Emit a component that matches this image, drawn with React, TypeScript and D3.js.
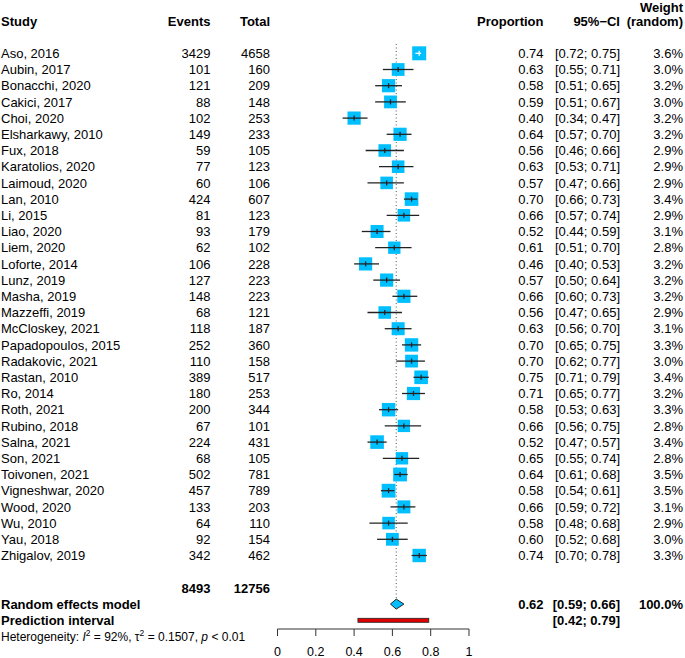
import React, { useEffect } from "react";
import * as d3 from "d3";

const studies = ["Aso, 2016","Aubin, 2017","Bonacchi, 2020","Cakici, 2017","Choi, 2020","Elsharkawy, 2010","Fux, 2018","Karatolios, 2020","Laimoud, 2020","Lan, 2010","Li, 2015","Liao, 2020","Liem, 2020","Loforte, 2014","Lunz, 2019","Masha, 2019","Mazzeffi, 2019","McCloskey, 2021","Papadopoulos, 2015","Radakovic, 2021","Rastan, 2010","Ro, 2014","Roth, 2021","Rubino, 2018","Salna, 2021","Son, 2021","Toivonen, 2021","Vigneshwar, 2020","Wood, 2020","Wu, 2010","Yau, 2018","Zhigalov, 2019"];
const events = [3429,101,121,88,102,149,59,77,60,424,81,93,62,106,127,148,68,118,252,110,389,180,200,67,224,68,502,457,133,64,92,342];
const totals = [4658,160,209,148,253,233,105,123,106,607,123,179,102,228,223,223,121,187,360,158,517,253,344,101,431,105,781,789,203,110,154,462];
const proportions = [0.74,0.63,0.58,0.59,0.40,0.64,0.56,0.63,0.57,0.70,0.66,0.52,0.61,0.46,0.57,0.66,0.56,0.63,0.70,0.70,0.75,0.71,0.58,0.66,0.52,0.65,0.64,0.58,0.66,0.58,0.60,0.74];
const ciLower = [0.72,0.55,0.51,0.51,0.34,0.57,0.46,0.53,0.47,0.66,0.57,0.44,0.51,0.40,0.50,0.60,0.47,0.56,0.65,0.62,0.71,0.65,0.53,0.56,0.47,0.55,0.61,0.54,0.59,0.48,0.52,0.70];
const ciUpper = [0.75,0.71,0.65,0.67,0.47,0.70,0.66,0.71,0.66,0.73,0.74,0.59,0.70,0.53,0.64,0.73,0.65,0.70,0.75,0.77,0.79,0.77,0.63,0.75,0.57,0.74,0.68,0.61,0.72,0.68,0.68,0.78];
const weights = [3.6,3.0,3.2,3.0,3.2,3.2,2.9,2.9,2.9,3.4,2.9,3.1,2.8,3.2,3.2,3.2,2.9,3.1,3.3,3.0,3.4,3.2,3.3,2.8,3.4,2.8,3.5,3.5,3.1,2.9,3.0,3.3];

const totalEvents = 8493;
const totalN = 12756;
const pooled = [0.62, 0.59, 0.66];
const prediction = [0.42, 0.79];
const axisTicks = [0, 0.2, 0.4, 0.6, 0.8, 1];

const FONT = "'Liberation Sans', Arial, Helvetica, sans-serif";
const SQUARE = "#00BFFF";

export default function App() {
  useEffect(() => {
    document.body.style.margin = "0";
  }, []);

  const W = 685, H = 658;
  const x = d3.scaleLinear().domain([0, 1]).range([277.5, 469]);
  const y = d3.scaleLinear().domain([0, studies.length - 1]).range([53.3, 555.5]);
  const step = y(1) - y(0);
  const size = d3.scaleSqrt().domain([0, 3.6]).range([0, 14]);
  const fmt2 = d3.format(".2f");
  const fmtW = (v: number) => d3.format(".1f")(v) + "%";
  const base = 4.6;

  const rowTotal = y(studies.length - 1) + 2 * step;
  const rowRandom = rowTotal + step;
  const rowPred = rowRandom + step;
  const rowHet = rowPred + step;
  const axisY = 629;

  const colEvents = 210.5;
  const colTotal = 270;
  const colProp = 543.5;
  const colCI = 620;
  const colW = 683;

  const header = { fontFamily: FONT, fontSize: 13, fontWeight: "bold" as const };
  const normal = { fontFamily: FONT, fontSize: 13 };

  return (
    <svg width={W} height={H} style={{ display: "block" }}>
      <rect width={W} height={H} fill="white" />
      {/* headers */}
      <text x={1} y={21 + base} {...header}>Study</text>
      <text x={colEvents} y={21 + base} textAnchor="end" {...header}>Events</text>
      <text x={colTotal} y={21 + base} textAnchor="end" {...header}>Total</text>
      <text x={colProp} y={21 + base} textAnchor="end" {...header}>Proportion</text>
      <text x={colCI} y={21 + base} textAnchor="end" {...header}>95%−CI</text>
      <text x={colW} y={11.5} textAnchor="end" {...header}>Weight</text>
      <text x={colW} y={21 + base} textAnchor="end" {...header}>(random)</text>

      {/* reference line */}
      <line x1={x(pooled[0])} x2={x(pooled[0])} y1={44} y2={rowRandom - 4} stroke="#555" strokeWidth={1} strokeDasharray="1,2.5" />

      {studies.map((s, i) => {
        const cy = y(i);
        const cx = x(proportions[i]);
        const sz = size(weights[i]);
        const lo = x(ciLower[i]);
        const hi = x(ciUpper[i]);
        const inside = lo > cx - sz / 2 && hi < cx + sz / 2;
        const lc = inside ? "white" : "#222";
        return (
          <g key={s}>
            <text x={1} y={cy + base} {...normal}>{s}</text>
            <text x={colEvents} y={cy + base} textAnchor="end" {...normal}>{events[i]}</text>
            <text x={colTotal} y={cy + base} textAnchor="end" {...normal}>{totals[i]}</text>
            <text x={colProp} y={cy + base} textAnchor="end" {...normal}>{fmt2(proportions[i])}</text>
            <text x={colCI} y={cy + base} textAnchor="end" {...normal}>[{fmt2(ciLower[i])}; {fmt2(ciUpper[i])}]</text>
            <text x={colW} y={cy + base} textAnchor="end" {...normal}>{fmtW(weights[i])}</text>
            <rect x={cx - sz / 2} y={cy - sz / 2} width={sz} height={sz} fill={SQUARE} />
            <line x1={lo} x2={hi} y1={cy} y2={cy} stroke={lc} strokeWidth={1.3} />
            <line x1={cx} x2={cx} y1={cy - 2.5} y2={cy + 2.5} stroke={lc} strokeWidth={1.3} />
          </g>
        );
      })}

      {/* totals */}
      <text x={colEvents} y={rowTotal + base} textAnchor="end" {...header}>{totalEvents}</text>
      <text x={colTotal} y={rowTotal + base} textAnchor="end" {...header}>{totalN}</text>

      {/* random effects */}
      <text x={1} y={rowRandom + base} {...header}>Random effects model</text>
      <path
        d={`M${x(pooled[1])},${rowRandom} L${x(pooled[0])},${rowRandom - 5} L${x(pooled[2])},${rowRandom} L${x(pooled[0])},${rowRandom + 5} Z`}
        fill={SQUARE}
        stroke="#222"
        strokeWidth={1}
      />
      <text x={colProp} y={rowRandom + base} textAnchor="end" {...header}>{fmt2(pooled[0])}</text>
      <text x={colCI} y={rowRandom + base} textAnchor="end" {...header}>[{fmt2(pooled[1])}; {fmt2(pooled[2])}]</text>
      <text x={colW} y={rowRandom + base} textAnchor="end" {...header}>100.0%</text>

      {/* prediction interval */}
      <text x={1} y={rowPred + base} {...header}>Prediction interval</text>
      <rect x={x(prediction[0])} y={rowPred - 2} width={x(prediction[1]) - x(prediction[0])} height={4} fill="#E00000" stroke="#222" strokeWidth={0.8} />
      <text x={colCI} y={rowPred + base} textAnchor="end" {...header}>[{fmt2(prediction[0])}; {fmt2(prediction[1])}]</text>

      {/* heterogeneity */}
      <text x={1} y={rowHet + 4.3} fontFamily={FONT} fontSize={12}>
        Heterogeneity: <tspan fontStyle="italic">I</tspan>
        <tspan dy={-5} fontSize={8.5}>2</tspan>
        <tspan dy={5}> = 92%, τ</tspan>
        <tspan dy={-5} fontSize={8.5}>2</tspan>
        <tspan dy={5}> = 0.1507, </tspan>
        <tspan fontStyle="italic">p</tspan>
        <tspan> &lt; 0.01</tspan>
      </text>

      {/* axis */}
      <g>
        <line x1={x(0)} x2={x(1)} y1={axisY} y2={axisY} stroke="#333" strokeWidth={1} />
        {axisTicks.map((t) => (
          <g key={t}>
            <line x1={x(t)} x2={x(t)} y1={axisY} y2={axisY + 7} stroke="#333" strokeWidth={1} />
            <text x={x(t)} y={655.5} textAnchor="middle" fontFamily={FONT} fontSize={12.5}>{String(t)}</text>
          </g>
        ))}
      </g>
    </svg>
  );
}
